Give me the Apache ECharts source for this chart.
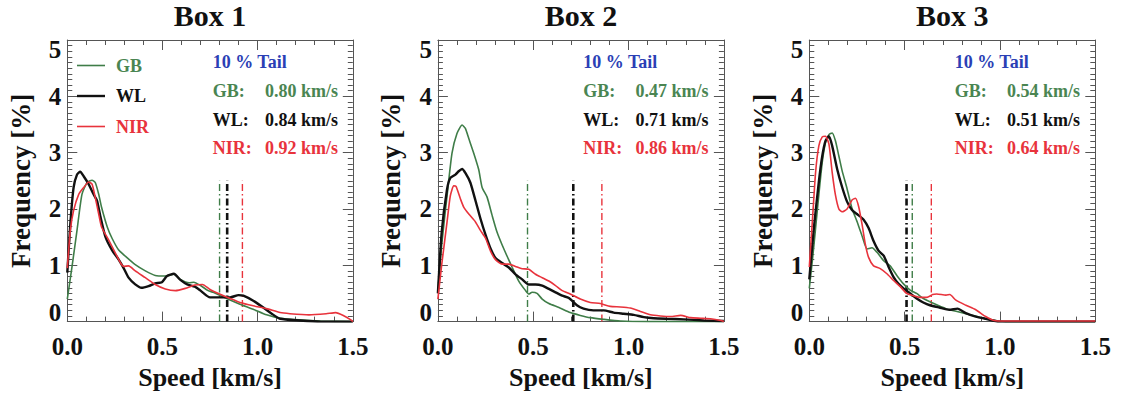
<!DOCTYPE html>
<html><head><meta charset="utf-8">
<script src="https://cdn.jsdelivr.net/npm/echarts@6/dist/echarts.min.js"></script>
<style>html,body{margin:0;padding:0;background:#fff}#c{width:1126px;height:395px}</style>
</head><body><div id="c"></div>
<script>
// ---------------- data ----------------
const panelTitles = ['Box 1', 'Box 2', 'Box 3'];
const seriesNames = ['GB', 'WL', 'NIR'];
const tailTitle = '10 % Tail';
const tailUnit = 'km/s';
const xTickLabels = ['0.0', '0.5', '1.0', '1.5'];
const yTickLabels = ['0', '1', '2', '3', '4', '5'];

// [speed km/s, frequency %]
const box1GB = [[0,0.40],[0.025,0.98],[0.051,1.62],[0.077,2.26],[0.104,2.47],[0.13,2.51],[0.147,2.47],[0.165,2.26],[0.18,2.03],[0.21,1.68],[0.235,1.48],[0.27,1.27],[0.305,1.16],[0.357,1.01],[0.41,0.90],[0.462,0.82],[0.515,0.81],[0.56,0.84],[0.594,0.75],[0.64,0.69],[0.665,0.70],[0.70,0.64],[0.74,0.55],[0.767,0.52],[0.837,0.41],[0.907,0.31],[0.977,0.22],[1.047,0.12],[1.118,0.06],[1.22,0.03],[1.33,0.01],[1.5,0.0]];
const box1WL = [[0,0.87],[0.016,1.74],[0.033,2.38],[0.051,2.61],[0.068,2.66],[0.086,2.58],[0.112,2.44],[0.138,2.26],[0.156,2.15],[0.173,1.88],[0.2,1.51],[0.235,1.27],[0.27,1.10],[0.296,0.95],[0.322,0.78],[0.357,0.66],[0.39,0.60],[0.427,0.63],[0.462,0.68],[0.497,0.70],[0.524,0.81],[0.56,0.85],[0.594,0.74],[0.63,0.66],[0.67,0.62],[0.70,0.55],[0.75,0.43],[0.80,0.43],[0.855,0.43],[0.90,0.47],[0.925,0.46],[0.977,0.37],[1.03,0.25],[1.074,0.14],[1.118,0.05],[1.22,0.02],[1.33,0.0],[1.5,0.0]];
const box1NIR = [[0,0.95],[0.016,1.62],[0.033,1.97],[0.06,2.26],[0.086,2.38],[0.112,2.48],[0.13,2.44],[0.147,2.2],[0.165,1.91],[0.18,1.68],[0.217,1.45],[0.252,1.22],[0.28,1.04],[0.296,0.98],[0.322,0.99],[0.357,0.90],[0.41,0.78],[0.462,0.66],[0.515,0.58],[0.568,0.55],[0.62,0.59],[0.67,0.65],[0.71,0.66],[0.75,0.57],[0.80,0.49],[0.855,0.41],[0.907,0.34],[0.977,0.28],[1.047,0.23],[1.118,0.16],[1.17,0.14],[1.27,0.12],[1.36,0.14],[1.41,0.16],[1.45,0.11],[1.49,0.03],[1.5,0.0]];

const box2GB = [[0,0.55],[0.02,1.36],[0.048,2.23],[0.074,2.99],[0.10,3.34],[0.127,3.49],[0.144,3.43],[0.162,3.25],[0.188,2.99],[0.214,2.70],[0.232,2.38],[0.258,2.21],[0.284,1.89],[0.31,1.59],[0.337,1.36],[0.363,1.16],[0.39,0.96],[0.424,0.72],[0.46,0.55],[0.477,0.49],[0.494,0.52],[0.52,0.50],[0.547,0.40],[0.582,0.32],[0.635,0.25],[0.694,0.16],[0.747,0.11],[0.799,0.07],[0.869,0.04],[0.957,0.01],[1.1,0.0],[1.5,0.0]];
const box2WL = [[0,0.50],[0.02,1.59],[0.048,2.35],[0.065,2.55],[0.092,2.61],[0.109,2.67],[0.127,2.71],[0.144,2.64],[0.17,2.47],[0.197,2.15],[0.223,1.83],[0.25,1.54],[0.276,1.30],[0.302,1.13],[0.337,1.04],[0.372,0.96],[0.407,0.84],[0.442,0.75],[0.477,0.66],[0.512,0.66],[0.547,0.64],[0.582,0.58],[0.617,0.52],[0.652,0.46],[0.687,0.42],[0.729,0.29],[0.764,0.23],[0.816,0.20],[0.869,0.20],[0.922,0.16],[0.974,0.14],[1.027,0.12],[1.08,0.08],[1.132,0.06],[1.2,0.05],[1.29,0.04],[1.395,0.02],[1.5,0.01]];
const box2NIR = [[0,0.40],[0.02,1.01],[0.048,1.77],[0.065,2.23],[0.083,2.41],[0.095,2.40],[0.118,2.18],[0.136,2.03],[0.162,1.91],[0.197,1.77],[0.223,1.62],[0.25,1.48],[0.276,1.25],[0.302,1.10],[0.337,1.02],[0.372,1.02],[0.407,0.98],[0.442,0.94],[0.477,0.93],[0.512,0.84],[0.547,0.78],[0.582,0.72],[0.617,0.64],[0.652,0.55],[0.694,0.49],[0.747,0.40],[0.799,0.34],[0.852,0.32],[0.904,0.27],[0.957,0.26],[1.009,0.24],[1.062,0.18],[1.115,0.12],[1.167,0.10],[1.22,0.09],[1.273,0.11],[1.325,0.07],[1.378,0.06],[1.43,0.05],[1.483,0.02],[1.5,0.0]];

const box3GB = [[0,0.59],[0.016,1.08],[0.033,1.66],[0.05,2.25],[0.068,2.83],[0.085,3.18],[0.103,3.32],[0.12,3.35],[0.137,3.21],[0.155,2.94],[0.172,2.68],[0.198,2.36],[0.224,2.01],[0.25,1.78],[0.277,1.52],[0.303,1.29],[0.329,1.31],[0.355,1.23],[0.39,1.08],[0.424,0.99],[0.459,0.82],[0.494,0.67],[0.529,0.56],[0.563,0.50],[0.598,0.41],[0.647,0.33],[0.717,0.23],[0.786,0.17],[0.856,0.11],[0.925,0.05],[0.977,0.02],[1.03,0.0],[1.5,0.0]];
const box3WL = [[0,0.75],[0.024,1.66],[0.05,2.48],[0.068,2.94],[0.085,3.21],[0.103,3.29],[0.12,3.12],[0.146,2.71],[0.172,2.39],[0.198,2.13],[0.224,1.98],[0.25,1.91],[0.285,1.81],[0.311,1.66],[0.337,1.43],[0.363,1.26],[0.39,1.17],[0.416,0.97],[0.442,0.79],[0.468,0.67],[0.494,0.59],[0.529,0.50],[0.563,0.41],[0.598,0.34],[0.633,0.29],[0.682,0.25],[0.734,0.21],[0.777,0.23],[0.821,0.15],[0.873,0.09],[0.925,0.05],[0.995,0.0],[1.5,0.0]];
const box3NIR = [[0,0.97],[0.016,1.78],[0.033,2.65],[0.05,3.12],[0.068,3.28],[0.085,3.29],[0.103,3.15],[0.12,2.65],[0.137,2.25],[0.155,2.0],[0.172,1.95],[0.198,2.0],[0.224,2.16],[0.242,2.19],[0.259,2.04],[0.277,1.72],[0.294,1.37],[0.311,1.14],[0.337,0.99],[0.372,0.94],[0.407,0.85],[0.442,0.73],[0.477,0.62],[0.511,0.50],[0.546,0.46],[0.581,0.43],[0.616,0.43],[0.647,0.48],[0.668,0.49],[0.717,0.47],[0.737,0.48],[0.769,0.38],[0.821,0.29],[0.873,0.21],[0.925,0.09],[0.969,0.02],[1.03,0.01],[1.5,0.01]];

// 10 % tail speeds (GB, WL, NIR)
const box1Tail = [0.80, 0.84, 0.92];
const box2Tail = [0.47, 0.71, 0.86];
const box3Tail = [0.54, 0.51, 0.64];
const tailMarkTop = 2.5;

// ---------------- layout / style ----------------
const FONT = '"Liberation Serif", "Times New Roman", serif';
const colors = ['#3f7d48', '#111111', '#e8333c'];
const textColors = ['#4a8552', '#111111', '#e8333c'];
const lineWidths = [1.6, 2.4, 1.6];
const blue = '#2b3fb5';
const frame = '#555555';
const grids = [
  {left: 67.3, top: 40, width: 285.5, height: 286.7},
  {left: 437.9, top: 40, width: 286, height: 286.7},
  {left: 809.3, top: 40, width: 286, height: 286.7}
];
const panelData = [[box1GB, box1WL, box1NIR], [box2GB, box2WL, box2NIR], [box3GB, box3WL, box3NIR]];
const panelTails = [box1Tail, box2Tail, box3Tail];

const xAxes = [], yAxes = [], series = [], graphics = [], titles = [];
grids.forEach((g, p) => {
  titles.push({
    text: panelTitles[p], left: g.left + g.width / 2, top: 1, padding: 0, textAlign: 'center',
    textStyle: {fontFamily: FONT, fontWeight: 'bold', fontSize: 30, lineHeight: 28, color: '#111'}
  });
  const tickBase = {show: true, inside: true, length: 10, lineStyle: {color: frame, width: 1}};
  ['bottom', 'top'].forEach((pos, k) => {
    xAxes.push({
      type: 'value', gridIndex: p, position: pos, min: 0, max: 1.5, interval: 0.5,
      axisLine: {show: true, onZero: false, lineStyle: {color: frame, width: 1}},
      axisTick: tickBase,
      minorTick: {show: true, splitNumber: 5, length: 5, lineStyle: {color: frame, width: 1}},
      splitLine: {show: false}, minorSplitLine: {show: false},
      axisLabel: k === 0 ? {
        show: true, margin: 16, color: '#111', fontFamily: FONT, fontWeight: 'bold', fontSize: 25, lineHeight: 18,
        formatter: v => xTickLabels[Math.round(v / 0.5)]
      } : {show: false},
      name: k === 0 ? 'Speed [km/s]' : '', nameLocation: 'middle', nameGap: 37,
      nameTextStyle: {fontFamily: FONT, fontWeight: 'bold', fontSize: 26, color: '#111'}
    });
  });
  ['left', 'right'].forEach((pos, k) => {
    yAxes.push({
      type: 'value', gridIndex: p, position: pos, min: 0, max: 5, interval: 1,
      axisLine: {show: true, onZero: false, lineStyle: {color: frame, width: 1}},
      axisTick: tickBase,
      minorTick: {show: true, splitNumber: 10, length: 5, lineStyle: {color: frame, width: 1}},
      splitLine: {show: false}, minorSplitLine: {show: false},
      axisLabel: k === 0 ? {
        show: true, margin: 6, color: '#111', fontFamily: FONT, fontWeight: 'bold', fontSize: 25, lineHeight: 18,
        verticalAlignMinLabel: 'bottom', verticalAlignMaxLabel: 'top',
        formatter: v => yTickLabels[Math.round(v)]
      } : {show: false},
      name: k === 0 ? 'Frequency [%]' : '', nameLocation: 'middle', nameGap: 33,
      nameTextStyle: {fontFamily: FONT, fontWeight: 'bold', fontSize: 27, color: '#111'}
    });
  });
  panelData[p].forEach((d, s) => {
    series.push({
      type: 'line', name: seriesNames[s], xAxisIndex: 2 * p, yAxisIndex: 2 * p,
      data: d, symbol: 'none', smooth: 0.2, animation: false, z: 3 + s,
      lineStyle: {color: colors[s], width: lineWidths[s]}, itemStyle: {color: colors[s]}
    });
  });
  panelTails[p].forEach((t, s) => {
    series.push({
      type: 'line', name: seriesNames[s] + ' tail', xAxisIndex: 2 * p, yAxisIndex: 2 * p,
      data: [[t, 0], [t, tailMarkTop]], symbol: 'none', animation: false, z: 2,
      lineStyle: {color: colors[s], width: s === 1 ? 2.6 : 1.4, type: [7, 3, 1.5, 3]}
    });
  });
  // annotation text
  const lx = g.left + 145.4, vx = g.left + 197.7;
  const font = 'bold 18px ' + FONT;
  graphics.push({type: 'text', x: lx, y: 61.7, style: {text: tailTitle, font: font, fill: blue, verticalAlign: 'middle'}});
  const rows = [90.7, 120, 147.7];
  panelTails[p].forEach((t, s) => {
    graphics.push({type: 'text', x: lx, y: rows[s], style: {text: seriesNames[s] + ':', font: font, fill: textColors[s], verticalAlign: 'middle'}});
    graphics.push({type: 'text', x: vx, y: rows[s], style: {text: t.toFixed(2) + ' ' + tailUnit, font: font, fill: textColors[s], verticalAlign: 'middle'}});
  });
});

const chart = echarts.init(document.getElementById('c'), null, {renderer: 'svg'});
chart.setOption({
  animation: false,
  backgroundColor: '#ffffff',
  title: titles,
  grid: grids,
  xAxis: xAxes,
  yAxis: yAxes,
  legend: {
    show: true, left: 77, top: 56.5, orient: 'vertical', itemWidth: 28, itemHeight: 17, itemGap: 12.5,
    selectedMode: false, padding: 0, symbolKeepAspect: true,
    data: seriesNames.map((n, s) => ({
      name: n,
      icon: 'path://M0,0H28V' + lineWidths[s] + 'H0Z',
      itemStyle: {color: colors[s]},
      textStyle: {color: textColors[s]}
    })),
    textStyle: {fontFamily: FONT, fontWeight: 'bold', fontSize: 18, lineHeight: 17, padding: [0, 0, 0, 6]}
  },
  series: series,
  graphic: graphics
});
</script></body></html>
